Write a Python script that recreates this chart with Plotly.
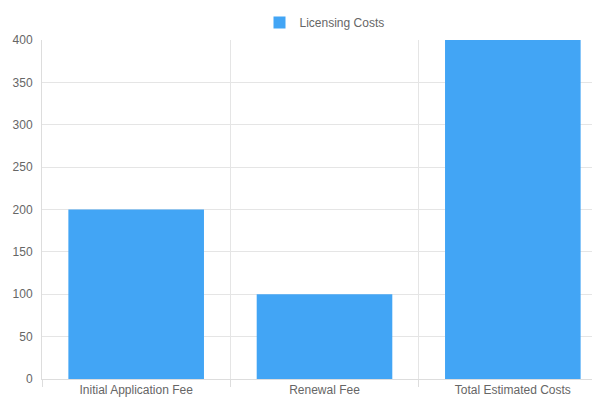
import plotly.graph_objects as go

categories = ["Initial Application Fee", "Renewal Fee", "Total Estimated Costs"]
costs = [200, 100, 400]

positions = list(range(len(categories)))
bounds = [p - 0.5 for p in positions] + [positions[-1] + 0.5]

fig = go.Figure()
fig.add_trace(go.Bar(x=positions, y=costs, name="Licensing Costs",
                     marker_color="#42A5F5", marker_line_width=0, width=0.72))

fig.update_layout(
    width=600, height=400,
    margin=dict(l=34, r=1, t=32, b=29, autoexpand=False),
    plot_bgcolor="white", paper_bgcolor="white",
    font=dict(family="Liberation Sans, Arial, sans-serif", size=12, color="#666"),
    showlegend=True,
    legend=dict(orientation="h", x=0.5, xanchor="center", yref="container",
                y=1.0, yanchor="top", font=dict(size=12, color="#666")),
)
fig.update_xaxes(range=[bounds[0], bounds[-1]], tickmode="array", automargin=False,
                 tickvals=positions, ticktext=categories, showgrid=False,
                 showline=True, linecolor="#ddd", zeroline=False,
                 minor=dict(tickmode="array", tickvals=bounds, showgrid=True,
                            gridcolor="#e5e5e5", ticks="outside", ticklen=7,
                            tickcolor="#ddd"))
fig.update_yaxes(range=[0, 400], dtick=50, showgrid=True, gridcolor="#e5e5e5",
                 showline=True, linecolor="#ddd", zeroline=False, automargin=False,
                 ticks="outside", ticklen=6, tickcolor="#fff")

fig.write_html("out.html")
